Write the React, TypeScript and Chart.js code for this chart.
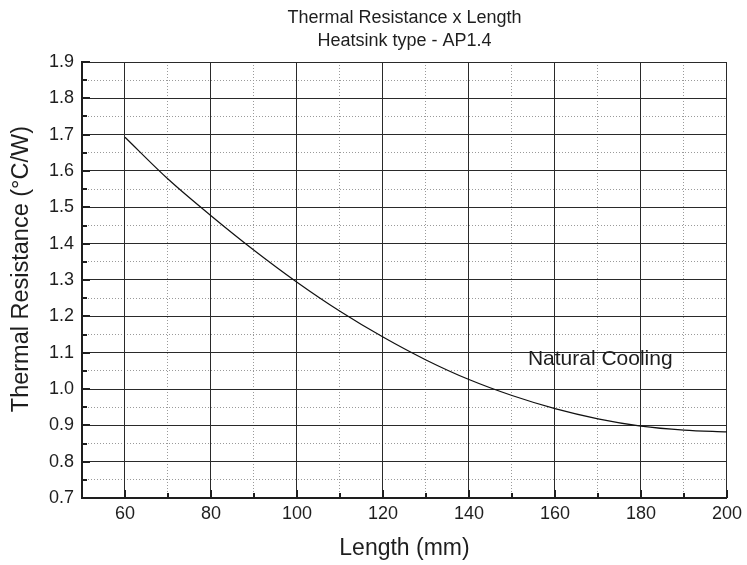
import React, { useEffect, useRef } from 'react';
import { Chart, registerables } from 'chart.js';

Chart.register(...registerables);

// ---- data ----
const lengths = [60, 70, 80, 90, 100, 110, 120, 130, 140, 150, 160, 170, 180, 190, 200];
const resistance = [1.693, 1.578, 1.477, 1.382, 1.294, 1.214, 1.143, 1.08, 1.026, 0.982, 0.946, 0.918, 0.898, 0.887, 0.882];

const xMajorTicks = [60, 80, 100, 120, 140, 160, 180, 200];
const xMinorTicks = [70, 90, 110, 130, 150, 170, 190];
const yMajorTicks = [0.7, 0.8, 0.9, 1.0, 1.1, 1.2, 1.3, 1.4, 1.5, 1.6, 1.7, 1.8, 1.9];
const yMinorTicks = [0.75, 0.85, 0.95, 1.05, 1.15, 1.25, 1.35, 1.45, 1.55, 1.65, 1.75, 1.85];

const titleLines = ['Thermal Resistance x Length', 'Heatsink type - AP1.4'];
const xTitle = 'Length (mm)';
const yTitle = 'Thermal Resistance (\u00B0C/W)';
const yTitleCenter = 1.33; // y value where the vertical axis title is centred
const annotationText = 'Natural Cooling';
const annotationAt = { x: 153.7, y: 1.066 };

const FONT = "'Liberation Sans', Arial, Helvetica, sans-serif";
const INK = '#1e1e1e';

export default function App() {
  const ref = useRef<HTMLCanvasElement>(null);

  useEffect(() => {
    document.body.style.margin = '0';
    const canvas = ref.current;
    if (!canvas) return;

    const overlay = {
      id: 'overlay',
      afterDraw(chart: any) {
        const { ctx, chartArea, scales } = chart;
        const xs = scales.x;
        const ys = scales.y;
        ctx.save();
        ctx.strokeStyle = INK;
        ctx.lineWidth = 2;
        const seg = (x1: number, y1: number, x2: number, y2: number) => {
          ctx.beginPath();
          ctx.moveTo(x1, y1);
          ctx.lineTo(x2, y2);
          ctx.stroke();
        };
        xMajorTicks.forEach((v) => {
          const px = Math.round(xs.getPixelForValue(v));
          seg(px, chartArea.bottom, px, chartArea.bottom - 8);
        });
        xMinorTicks.forEach((v) => {
          const px = Math.round(xs.getPixelForValue(v));
          seg(px, chartArea.bottom, px, chartArea.bottom - 5);
        });
        yMajorTicks.forEach((v) => {
          const py = Math.round(ys.getPixelForValue(v));
          seg(chartArea.left, py, chartArea.left + 8, py);
        });
        yMinorTicks.forEach((v) => {
          const py = Math.round(ys.getPixelForValue(v));
          seg(chartArea.left, py, chartArea.left + 5, py);
        });

        ctx.fillStyle = INK;
        ctx.textBaseline = 'alphabetic';
        ctx.textAlign = 'center';
        ctx.font = `18px ${FONT}`;
        const cx = (chartArea.left + chartArea.right) / 2;
        ctx.fillText(titleLines[0], cx, 23);
        ctx.fillText(titleLines[1], cx, 46);

        ctx.textAlign = 'left';
        ctx.font = `21px ${FONT}`;
        ctx.fillText(annotationText, xs.getPixelForValue(annotationAt.x), ys.getPixelForValue(annotationAt.y));

        // vertical axis title
        ctx.save();
        ctx.translate(22, ys.getPixelForValue(yTitleCenter));
        ctx.rotate(-Math.PI / 2);
        ctx.textAlign = 'center';
        ctx.textBaseline = 'middle';
        ctx.font = `23.5px ${FONT}`;
        ctx.fillText(yTitle, 0, 0);
        ctx.restore();

        ctx.restore();
      },
    };

    const chart = new Chart(canvas, {
      type: 'line',
      data: {
        datasets: [
          {
            data: lengths.map((x, i) => ({ x, y: resistance[i] })),
            borderColor: '#111',
            borderWidth: 1.2,
            pointRadius: 0,
            fill: false,
            tension: 0.4,
            cubicInterpolationMode: 'monotone',
          },
        ],
      },
      options: {
        animation: false,
        responsive: false,
        maintainAspectRatio: false,
        events: [],
        layout: { padding: { top: 62, right: 19, bottom: 0, left: 0 } },
        plugins: {
          legend: { display: false },
          tooltip: { enabled: false },
          title: { display: false },
        },
        scales: {
          xMinor: {
            type: 'linear',
            position: 'bottom',
            min: 50,
            max: 200,
            afterBuildTicks: (s: any) => {
              s.ticks = xMinorTicks.map((v) => ({ value: v }));
            },
            afterFit: (s: any) => {
              s.height = 0;
            },
            ticks: { display: false },
            border: { display: false, dash: [1, 2] },
            grid: { drawTicks: false, color: '#9a9a9a', lineWidth: 1 },
          },
          yMinor: {
            type: 'linear',
            position: 'left',
            min: 0.7,
            max: 1.9,
            afterBuildTicks: (s: any) => {
              s.ticks = yMinorTicks.map((v) => ({ value: v }));
            },
            afterFit: (s: any) => {
              s.width = 0;
            },
            ticks: { display: false },
            border: { display: false, dash: [1, 2] },
            grid: { drawTicks: false, color: '#9a9a9a', lineWidth: 1 },
          },
          x: {
            type: 'linear',
            position: 'bottom',
            min: 50,
            max: 200,
            afterBuildTicks: (s: any) => {
              s.ticks = xMajorTicks.map((v) => ({ value: v }));
            },
            afterFit: (s: any) => {
              s.height = 67;
            },
            ticks: {
              color: INK,
              padding: 5,
              font: { family: FONT, size: 18 },
              maxRotation: 0,
              autoSkip: false,
            },
            border: { display: true, color: INK, width: 2 },
            grid: { drawTicks: false, color: '#2a2a2a', lineWidth: 1 },
            title: {
              display: true,
              text: xTitle,
              color: INK,
              font: { family: FONT, size: 23 },
              padding: { top: 3, bottom: 3 },
            },
          },
          y: {
            type: 'linear',
            position: 'left',
            min: 0.7,
            max: 1.9,
            afterBuildTicks: (s: any) => {
              s.ticks = yMajorTicks.map((v) => ({ value: v }));
            },
            afterFit: (s: any) => {
              s.width = 82;
            },
            ticks: {
              color: INK,
              padding: 8,
              font: { family: FONT, size: 18 },
              autoSkip: false,
              callback: (v: any) => Number(v).toFixed(1),
            },
            border: { display: true, color: INK, width: 2 },
            grid: { drawTicks: false, color: '#2a2a2a', lineWidth: 1 },
            title: { display: false },
          },
        },
      } as any,
      plugins: [overlay],
    });

    return () => chart.destroy();
  }, []);

  return (
    <div style={{ width: 747, height: 565 }}>
      <canvas ref={ref} width={747} height={565} style={{ display: 'block', width: 747, height: 565 }} />
    </div>
  );
}
